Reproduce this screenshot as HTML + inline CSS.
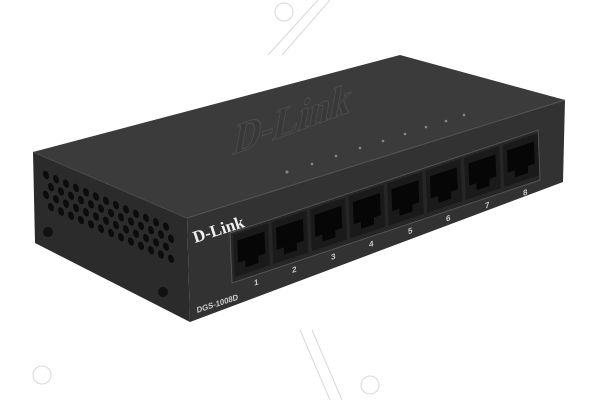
<!DOCTYPE html>
<html><head><meta charset="utf-8"><style>
html,body{margin:0;padding:0;background:#fff;}
svg{display:block}
</style></head><body>
<svg width="600" height="400" viewBox="0 0 600 400" xmlns="http://www.w3.org/2000/svg" font-family="Liberation Sans, sans-serif">
<rect width="600" height="400" fill="#fff"/>
<g stroke="#d8d8d8" stroke-width="1" fill="none">
<line x1="268" y1="55" x2="318" y2="0"/><line x1="282" y1="55" x2="330" y2="0"/>
<circle cx="284" cy="12" r="9"/>
<line x1="300" y1="330" x2="330" y2="400"/><line x1="312" y1="330" x2="342" y2="400"/>
<circle cx="370" cy="385" r="9"/>
<circle cx="42" cy="375" r="9"/>
</g>
<polygon points="33,152 187,218 190,322 35,243" fill="#2b2b2b"/>
<polygon points="33,152 400,55 565,100 187,218" fill="#3b3b3b"/>
<polygon points="187,218 565,100 563,182 190,322" fill="#323232"/>
<line x1="187" y1="218" x2="565" y2="100" stroke="#555" stroke-width="1"/>
<line x1="33" y1="152" x2="187" y2="218" stroke="#4a4a4a" stroke-width="1"/>
<g fill="#0c0c0c" transform="matrix(1,0.43,0,1,46,175)">
<g id="r1"><ellipse cx="0" cy="0" rx="3" ry="4"/><ellipse cx="10" cy="0" rx="3" ry="4"/><ellipse cx="20" cy="0" rx="3" ry="4"/><ellipse cx="30" cy="0" rx="3" ry="4"/><ellipse cx="40" cy="0" rx="3" ry="4"/><ellipse cx="50" cy="0" rx="3" ry="4"/><ellipse cx="60" cy="0" rx="3" ry="4"/><ellipse cx="70" cy="0" rx="3" ry="4"/><ellipse cx="80" cy="0" rx="3" ry="4"/><ellipse cx="90" cy="0" rx="3" ry="4"/><ellipse cx="100" cy="0" rx="3" ry="4"/><ellipse cx="110" cy="0" rx="3" ry="4"/><ellipse cx="120" cy="0" rx="3" ry="4"/></g>
<use href="#r1" x="5" y="10"/><use href="#r1" x="0" y="20"/><use href="#r1" x="5" y="30"/>
</g>
<circle cx="48" cy="232" r="5" fill="#111"/><circle cx="163" cy="292" r="5" fill="#111"/>
<text x="0" y="0" transform="translate(232,155) rotate(-20) skewX(-30)" font-family="Liberation Serif, serif" font-size="40" font-weight="bold" fill="#383838" stroke="#4c4c4c" stroke-width="1">D-Link</text>
<g fill="#888">
<circle cx="287" cy="172" r="1.5"/><circle cx="312" cy="164" r="1.3"/><circle cx="336" cy="156" r="1.3"/><circle cx="360" cy="148" r="1.3"/><circle cx="383" cy="141" r="1.3"/><circle cx="405" cy="134" r="1.3"/><circle cx="426" cy="127" r="1.3"/><circle cx="446" cy="121" r="1.3"/><circle cx="464" cy="115" r="1.3"/>
</g>
<g transform="matrix(1,-0.334,0.04,1,230,233)">
<rect x="0" y="0" width="308" height="50" fill="#262626" stroke="#555" stroke-width="1"/>
<g id="p"><rect x="3" y="3" width="35" height="42" fill="#1a1a1a"/><rect x="7" y="10" width="27" height="22" fill="#060606"/><rect x="14" y="32" width="13" height="7" fill="#060606"/></g>
<use href="#p" x="38.5"/><use href="#p" x="77"/><use href="#p" x="115.5"/><use href="#p" x="154"/><use href="#p" x="192.5"/><use href="#p" x="231"/><use href="#p" x="269.5"/>
<g fill="#ccc" font-size="8" font-weight="bold" text-anchor="middle">
<text x="24" y="60">1</text><text x="62" y="60">2</text><text x="101" y="60">3</text><text x="139" y="60">4</text><text x="178" y="60">5</text><text x="216" y="60">6</text><text x="255" y="60">7</text><text x="293" y="60">8</text>
</g>
</g>
<text transform="translate(195,243) rotate(-18)" font-family="Liberation Serif, serif" font-size="17" font-weight="bold" fill="#f0f0f0">D-Link</text>
<text transform="translate(197,313) rotate(-18) skewX(-12)" font-size="8" font-weight="bold" fill="#ccc">DGS-1008D</text>
</svg>
</body></html>
